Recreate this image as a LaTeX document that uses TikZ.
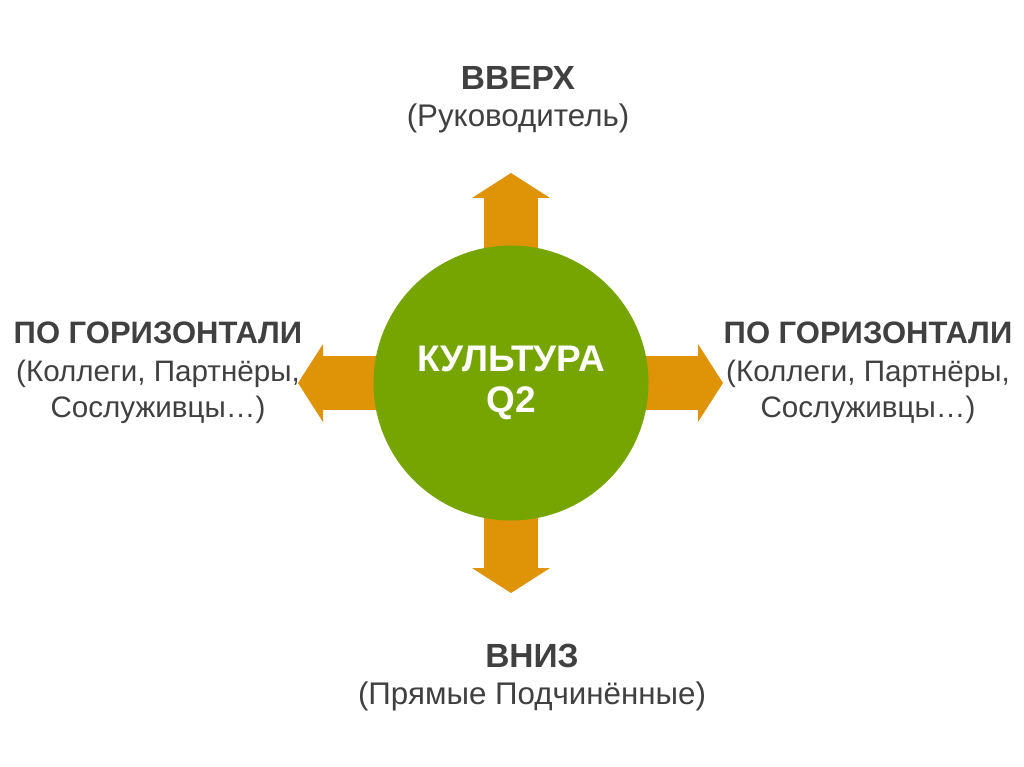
\documentclass[tikz,border=0pt]{standalone}
\usepackage{fontspec}
\setmainfont{Liberation Sans}
\usepackage{tikz}
\usetikzlibrary{positioning, arrows.meta, backgrounds}
\definecolor{arrowOrange}{HTML}{DF9306}
\definecolor{coreGreen}{HTML}{76A502}
\definecolor{labelGray}{HTML}{404040}

\begin{document}
\begin{tikzpicture}[x=1pt, y=-1pt,
    corenode/.style={circle, fill=coreGreen, minimum size=275pt, inner sep=0pt, text=white, font=\fontsize{37}{41}\selectfont\bfseries, align=center},
    headnode/.style={inner sep=0pt, text=labelGray, font=\fontsize{33.5}{37.5}\selectfont\bfseries, anchor=base},
    subnode/.style={inner sep=0pt, text=labelGray, font=\fontsize{31.3}{37.5}\selectfont, align=center},
    sidehead/.style={headnode, font=\fontsize{31}{37}\selectfont\bfseries},
    sidesub/.style={subnode, font=\fontsize{29.6}{36}\selectfont},
    flow/.style={draw=arrowOrange, line width=54pt, -{Triangle[length=25pt, width=78pt, line width=0pt]}},
]
\useasboundingbox (0,0) rectangle (1024,767);
\node[corenode](core) at (511,383){КУЛЬТУРА\\Q2};
\coordinate(upTip) at (511,173);
\coordinate(downTip) at (511,593);
\coordinate(leftTip) at (298,383);
\coordinate(rightTip) at (723,383);
\begin{pgfonlayer}{background}
\fill[white] (0,0) rectangle (1024,767);
\draw[flow] (core.center) -- (upTip);
\draw[flow] (core.center) -- (downTip);
\draw[flow] (core.center) -- (leftTip);
\draw[flow] (core.center) -- (rightTip);
\end{pgfonlayer}
\node[headnode](up) at (518,90){ВВЕРХ};
\node[subnode](upSub)[below = 37pt of up.base, anchor=base]{(Руководитель)};
\node[headnode](down) at (532,667){ВНИЗ};
\node[subnode](downSub)[below = 37pt of down.base, anchor=base]{(Прямые Подчинённые)};
\node[sidehead](left) at (158,343){ПО ГОРИЗОНТАЛИ};
\node[sidesub](leftSub)[below = 74pt of left.base, anchor=base]{(Коллеги, Партнёры,\\Сослуживцы…)};
\node[sidehead](right) at (868,343){ПО ГОРИЗОНТАЛИ};
\node[sidesub](rightSub)[below = 74pt of right.base, anchor=base]{(Коллеги, Партнёры,\\Сослуживцы…)};
\end{tikzpicture}
\end{document}
